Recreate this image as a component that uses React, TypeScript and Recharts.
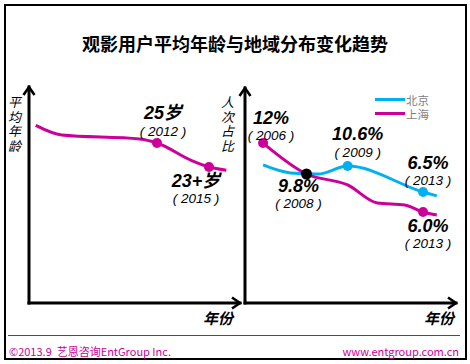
import { Legend, Line, LineChart, XAxis, YAxis } from "recharts";

// left panel: average age trend
const ageYears = [2005, 2006.5, 2011, 2012, 2014, 2015, 2016];
const ageValues = [26.1, 25.5, 25.25, 25, 23.9, 23.5, 23.3];
const ageMainLabels = ["", "", "", "25岁", "", "23+岁", ""];
const ageYearLabels = ["", "", "", "( 2012 )", "", "( 2015 )", ""];

// right panel: share of viewers by city (schematic level index)
const bjYears = [2006, 2007.2, 2008.4, 2009.7, 2013, 2013.6];
const bjValues = [64.2, 60.5, 60, 63.7, 51.6, 49.8];
const bjMainLabels = ["", "", "", "10.6%", "6.5%", ""];
const bjYearLabels = ["", "", "", "( 2009 )", "( 2013 )", ""];

const shYears = [2006, 2007.9, 2009.7, 2011, 2012.2, 2013, 2013.6];
const shValues = [74.4, 60, 54.9, 46.5, 45.6, 42.3, 40.9];
const shMainLabels = ["12%", "9.8%", "", "", "", "6.0%", ""];
const shYearLabels = ["( 2006 )", "( 2008 )", "", "", "", "( 2013 )", ""];

const cityOrder = ["北京", "上海"];

const ageData = ageYears.map((year, i) => ({ year, age: ageValues[i] }));
const bjData = bjYears.map((year, i) => ({ year, level: bjValues[i] }));
const shData = shYears.map((year, i) => ({ year, level: shValues[i] }));

const MAGENTA = "#CC0099";
const CYAN = "#00B0F0";
const latin = "'Liberation Sans', Arial, 'Noto Sans CJK SC', sans-serif";
const cjk = "'Noto Sans CJK SC', sans-serif";

// label offsets from the dot, per series index: [dx, dy main, dy year]
const ageOffsets: Record<number, number[]> = { 3: [6, -30, -12], 5: [-13, 14, 31] };
const bjOffsets: Record<number, number[]> = { 3: [10, -32, -14], 4: [5, -29, -12] };
const shOffsets: Record<number, number[]> = { 0: [8, -25, -8], 1: [-8, 12, 29], 5: [5, 14, 31] };
const crossIndex = 1;

function markDot(
  mains: string[],
  years: string[],
  offsets: Record<number, number[]>,
  color: string,
  blackAt = -1
) {
  return (p: any) => {
    const { cx, cy, index } = p;
    if (!mains[index]) return <g key={`d${index}`} />;
    const [dx, dy1, dy2] = offsets[index];
    return (
      <g key={`d${index}`}>
        <circle cx={cx} cy={cy} r={index === blackAt ? 5.5 : 5} fill={index === blackAt ? "#000" : color} />
        <text
          x={cx + dx}
          y={cy + dy1}
          textAnchor="middle"
          dominantBaseline="central"
          fontFamily={latin}
          fontWeight="bold"
          fontStyle="italic"
          fontSize={18}
          fill="#000"
        >
          {mains[index]}
        </text>
        <text
          x={cx + dx}
          y={cy + dy2}
          textAnchor="middle"
          dominantBaseline="central"
          fontFamily={latin}
          fontStyle="italic"
          fontSize={13.5}
          fill="#000"
        >
          {years[index]}
        </text>
      </g>
    );
  };
}

function ArrowDefs({ id }: { id: string }) {
  return (
    <defs>
      <marker
        id={id}
        viewBox="0 0 14 14"
        refX={11}
        refY={7}
        markerWidth={14}
        markerHeight={14}
        markerUnits="userSpaceOnUse"
        orient="auto-start-reverse"
      >
        <path d="M3,1.5 L11,7 L3,12.5" fill="none" stroke="#000" strokeWidth={2.6} />
      </marker>
    </defs>
  );
}

const axisX = (id: string) => ({ stroke: "#000", strokeWidth: 3, strokeLinecap: "square" as const, markerEnd: `url(#${id})` });
const axisY = (id: string) => ({ stroke: "#000", strokeWidth: 3, strokeLinecap: "square" as const, markerStart: `url(#${id})` });

function LegendRows({ payload }: any) {
  return (
    <div>
      {(payload || []).map((entry: any) => (
        <div key={entry.value} style={{ display: "flex", alignItems: "center", height: 14 }}>
          <div style={{ width: 30, height: 3, background: entry.color }} />
          <span style={{ fontFamily: cjk, fontSize: 11.5, lineHeight: "14px", color: "#7F7F7F", marginLeft: 1 }}>
            {entry.value}
          </span>
        </div>
      ))}
    </div>
  );
}

const abs = (style: React.CSSProperties): React.CSSProperties => ({ position: "absolute", ...style });

export default function App() {
  return (
    <div style={abs({ left: 0, top: 0, width: 470, height: 364, background: "#fff", overflow: "hidden" })}>
      <div style={abs({ left: 4, top: 4, width: 463, height: 356, border: "2px solid #000", boxSizing: "border-box" })} />
      <div
        style={abs({
          left: 0,
          top: 31,
          width: 470,
          textAlign: "center",
          fontFamily: cjk,
          fontWeight: "bold",
          fontSize: 18,
          lineHeight: "24px",
        })}
      >
        观影用户平均年龄与地域分布变化趋势
      </div>

      <div style={abs({ left: 0, top: 0 })}>
        <LineChart width={245} height={320} margin={{ top: 87, right: 5, bottom: 16, left: 28 }} data={ageData}>
          <ArrowDefs id="arrL" />
          <XAxis
            dataKey="year"
            type="number"
            domain={[2004.61, 2016.79]}
            height={1}
            tick={false}
            tickLine={false}
            axisLine={axisX("arrL")}
          />
          <YAxis type="number" domain={[15, 28.5]} width={1} tick={false} tickLine={false} axisLine={axisY("arrL")} />
          <Line
            dataKey="age"
            type="monotone"
            stroke={MAGENTA}
            strokeWidth={3}
            isAnimationActive={false}
            activeDot={false}
            dot={markDot(ageMainLabels, ageYearLabels, ageOffsets, MAGENTA)}
          />
        </LineChart>
      </div>

      <div style={abs({ left: 235, top: 0 })}>
        <LineChart width={235} height={320} margin={{ top: 88, right: 14, bottom: 16, left: 9 }}>
          <ArrowDefs id="arrR" />
          <XAxis
            dataKey="year"
            type="number"
            domain={[2005.21, 2014.44]}
            height={1}
            tick={false}
            tickLine={false}
            axisLine={axisX("arrR")}
            allowDuplicatedCategory={false}
          />
          <YAxis type="number" domain={[0, 100]} width={1} tick={false} tickLine={false} axisLine={axisY("arrR")} />
          <Legend
            layout="vertical"
            align="center"
            verticalAlign="middle"
            itemSorter={(item: any) => cityOrder.indexOf(item.value)}
            wrapperStyle={{ left: 140, top: 92.5, width: 70 }}
            content={LegendRows}
          />
          <Line
            data={bjData}
            name="北京"
            dataKey="level"
            type="monotone"
            stroke={CYAN}
            strokeWidth={3}
            isAnimationActive={false}
            activeDot={false}
            dot={markDot(bjMainLabels, bjYearLabels, bjOffsets, CYAN)}
          />
          <Line
            data={shData}
            name="上海"
            dataKey="level"
            type="monotone"
            stroke={MAGENTA}
            strokeWidth={3}
            isAnimationActive={false}
            activeDot={false}
            dot={markDot(shMainLabels, shYearLabels, shOffsets, MAGENTA, crossIndex)}
          />
        </LineChart>
      </div>

      {/* vertical axis titles */}
      <div
        style={abs({
          left: 8,
          top: 95,
          width: 14,
          fontFamily: cjk,
          fontStyle: "italic",
          fontSize: 13,
          lineHeight: "14.5px",
          wordBreak: "break-all",
        })}
      >
        平均年龄
      </div>
      <div
        style={abs({
          left: 221,
          top: 95,
          width: 14,
          fontFamily: cjk,
          fontStyle: "italic",
          fontSize: 13,
          lineHeight: "14.5px",
          wordBreak: "break-all",
        })}
      >
        人次占比
      </div>

      <div style={abs({ left: 203, top: 308, fontFamily: cjk, fontWeight: "bold", fontStyle: "italic", fontSize: 15, lineHeight: "20px" })}>
        年份
      </div>
      <div style={abs({ left: 424, top: 308, fontFamily: cjk, fontWeight: "bold", fontStyle: "italic", fontSize: 15, lineHeight: "20px" })}>
        年份
      </div>

      <div style={abs({ left: 8, top: 335, width: 452, height: 1, background: MAGENTA })} />
      <div style={abs({ left: 9, top: 343, fontFamily: cjk, fontSize: 11, lineHeight: "16px", color: MAGENTA, whiteSpace: "pre" })}>
        {"©2013.9  艺恩咨询EntGroup Inc."}
      </div>
      <div style={abs({ right: 11, top: 343, fontFamily: cjk, fontSize: 11, lineHeight: "16px", color: MAGENTA })}>
        www.entgroup.com.cn
      </div>
    </div>
  );
}
